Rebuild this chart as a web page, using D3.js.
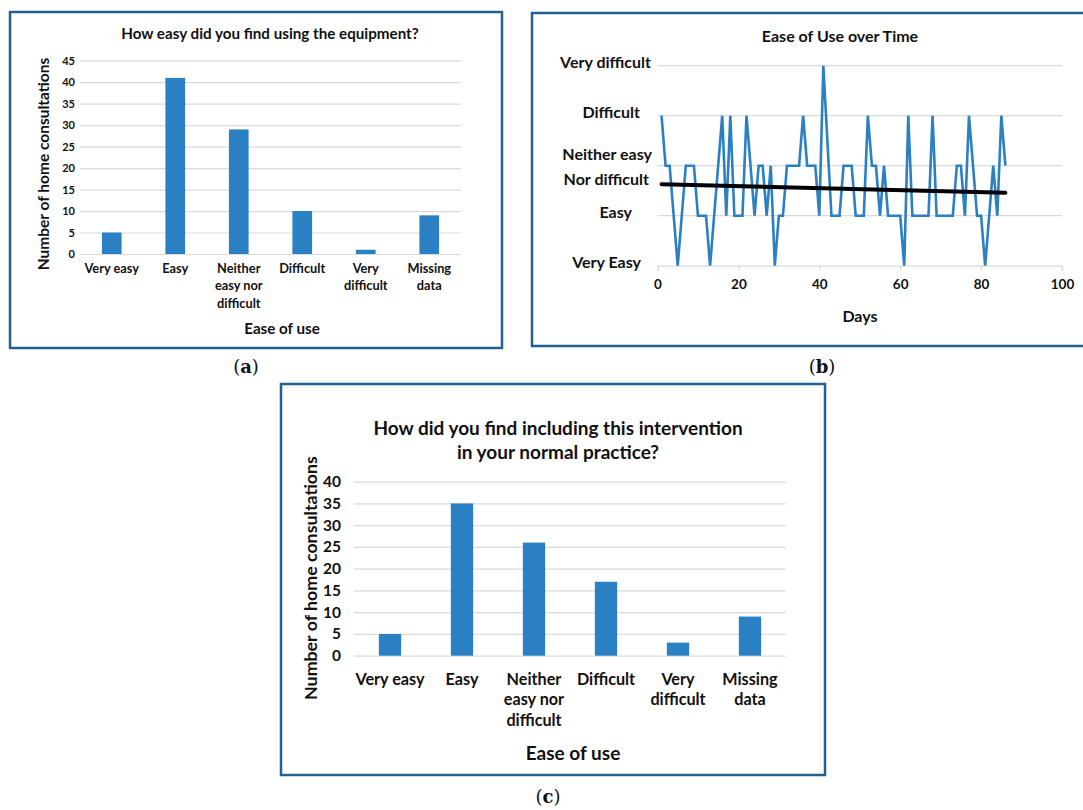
<!DOCTYPE html>
<html>
<head>
<meta charset="utf-8">
<script src="https://cdn.jsdelivr.net/npm/d3@7"></script>
<style>
  body { margin: 0; background: #fff; }
  svg { display: block; font-family: Lato, "Open Sans", sans-serif; }
</style>
</head>
<body>
<div id="container"></div>
<script>
// Categories shared by the two bar charts (line breaks as in the figure)
const categories = ['Very easy', 'Easy', 'Neither easy nor difficult', 'Difficult', 'Very difficult', 'Missing data'];
const categoryLines = [['Very easy'], ['Easy'], ['Neither', 'easy nor', 'difficult'], ['Difficult'], ['Very', 'difficult'], ['Missing', 'data']];

// (a) How easy did you find using the equipment?
const equipmentCounts = [5, 41, 29, 10, 1, 9];
const equipmentTicks = [0, 5, 10, 15, 20, 25, 30, 35, 40, 45];

// (c) How did you find including this intervention in your normal practice?
const practiceCounts = [5, 35, 26, 17, 3, 9];
const practiceTicks = [0, 5, 10, 15, 20, 25, 30, 35, 40];

// (b) Ease of use over time (1 = very easy ... 5 = very difficult)
const easeLevels = [1, 2, 3, 4, 5];
const easeLabels = [['Very Easy'], ['Easy'], ['Neither easy', 'Nor difficult'], ['Difficult'], ['Very difficult']];
const days = [1, 2, 3, 5, 7, 9, 10, 12, 13, 16, 17, 18, 19, 21, 22, 24, 25, 26, 27, 28, 29, 30, 31, 32, 35, 36, 37, 39, 40, 41,
  43, 45, 46, 48, 49, 51, 52, 53, 54, 55, 56, 57, 60, 61, 62, 63, 67, 68, 69, 73, 74, 75, 76, 77, 79, 80, 81, 83, 84, 85, 86];
const easeValues = [4, 3, 3, 1, 3, 3, 2, 2, 1, 4, 2, 4, 2, 2, 4, 2, 3, 3, 2, 3, 1, 2, 2, 3, 3, 4, 3, 3, 2, 5,
  2, 2, 3, 3, 2, 2, 4, 3, 3, 2, 3, 2, 2, 1, 4, 2, 2, 4, 2, 2, 3, 3, 2, 4, 2, 2, 1, 3, 2, 4, 3];
const trendDays = [1, 86];
const trendValues = [2.63, 2.46];
const dayTicks = [0, 20, 40, 60, 80, 100];

const blue = '#2a80c3';
const frame = '#22618f';
const grid = '#dadada';

const svg = d3.select('#container').append('svg')
  .attr('width', 1083)
  .attr('height', 810);

// Bar chart panel, used for (a) and (c)
function barPanel(opt) {
  const g = svg.append('g');

  g.append('rect')
    .attr('x', opt.box[0]).attr('y', opt.box[1])
    .attr('width', opt.box[2] - opt.box[0]).attr('height', opt.box[3] - opt.box[1])
    .attr('fill', '#fff').attr('stroke', frame).attr('stroke-width', 2.5);

  const x = d3.scaleBand()
    .domain(categories)
    .range([opt.left, opt.right])
    .paddingInner(0.69)
    .paddingOuter(0.345);

  const y = d3.scaleLinear()
    .domain([0, d3.max(opt.ticks)])
    .range([opt.bottom, opt.top]);

  // gridlines + y labels
  g.append('g')
    .attr('transform', `translate(${opt.left},0)`)
    .call(d3.axisLeft(y).tickValues(opt.ticks).tickSize(-(opt.right - opt.left)).tickPadding(opt.tickPad))
    .call(a => a.select('.domain').remove())
    .call(a => a.selectAll('line').attr('stroke', grid).attr('stroke-width', 1.2))
    .call(a => a.selectAll('text')
      .attr('font-family', 'Lato, sans-serif')
      .attr('font-weight', 'bold')
      .attr('font-size', opt.tickSize)
      .attr('fill', '#111'));

  g.append('g').selectAll('rect')
    .data(opt.values)
    .join('rect')
    .attr('x', (d, i) => x(categories[i]))
    .attr('y', d => y(d))
    .attr('width', x.bandwidth())
    .attr('height', d => y(0) - y(d))
    .attr('fill', blue);

  // category labels
  const lab = g.append('g').selectAll('text')
    .data(categoryLines)
    .join('text')
    .attr('text-anchor', 'middle')
    .attr('font-weight', 'bold')
    .attr('font-size', opt.catSize)
    .attr('fill', '#111');
  lab.selectAll('tspan')
    .data((d, i) => d.map(t => ({ t, i })))
    .join('tspan')
    .attr('x', d => x(categories[d.i]) + x.bandwidth() / 2)
    .attr('y', (d, j) => opt.catY + j * opt.catGap)
    .attr('dy', '0.35em')
    .text(d => d.t);

  // title
  const t = g.append('text')
    .attr('text-anchor', 'middle')
    .attr('font-weight', 'bold')
    .attr('font-size', opt.titleSize)
    .attr('fill', '#111');
  t.selectAll('tspan')
    .data(opt.title)
    .join('tspan')
    .attr('x', opt.titleX)
    .attr('y', (d, j) => opt.titleY + j * opt.titleGap)
    .attr('dy', '0.35em')
    .text(d => d);

  g.append('text')
    .attr('x', opt.xTitle[0]).attr('y', opt.xTitle[1])
    .attr('dy', '0.35em')
    .attr('text-anchor', 'middle')
    .attr('font-weight', 'bold')
    .attr('font-size', opt.axisSize)
    .attr('fill', '#111')
    .text('Ease of use');

  g.append('text')
    .attr('transform', `translate(${opt.yTitle[0]},${opt.yTitle[1]}) rotate(-90)`)
    .attr('dy', '0.35em')
    .attr('text-anchor', 'middle')
    .attr('font-weight', 'bold')
    .attr('font-size', opt.yAxisSize)
    .attr('fill', '#111')
    .text('Number of home consultations');
}

barPanel({
  box: [10, 12, 502, 348],
  left: 80, right: 461, top: 60.7, bottom: 254,
  values: equipmentCounts, ticks: equipmentTicks,
  tickSize: 11, tickPad: 5,
  catSize: 12.8, catY: 268.5, catGap: 17.5,
  title: ['How easy did you find using the equipment?'], titleX: 270, titleY: 34, titleGap: 0, titleSize: 15.2,
  axisSize: 15.2, yAxisSize: 15.5, xTitle: [282, 329], yTitle: [44, 164]
});

barPanel({
  box: [281, 384, 825, 775],
  left: 354, right: 786, top: 481.7, bottom: 655.7,
  values: practiceCounts, ticks: practiceTicks,
  tickSize: 15.5, tickPad: 13,
  catSize: 16.2, catY: 679, catGap: 20.5,
  title: ['How did you find including this intervention', 'in your normal practice?'], titleX: 558, titleY: 428.5, titleGap: 23.5, titleSize: 19,
  axisSize: 19, yAxisSize: 17.8, xTitle: [573, 753], yTitle: [311, 578]
});

// (b) line chart
const gb = svg.append('g');
gb.append('rect')
  .attr('x', 532).attr('y', 13).attr('width', 600).attr('height', 333)
  .attr('fill', '#fff').attr('stroke', frame).attr('stroke-width', 2.5);

const xb = d3.scaleLinear().domain([0, 100]).range([657.5, 1062]);
const yb = d3.scaleLinear().domain([1, 5]).range([265.7, 65.7]);

gb.append('g').selectAll('line')
  .data(easeLevels.slice(1))
  .join('line')
  .attr('x1', xb(0)).attr('x2', xb(100))
  .attr('y1', d => yb(d)).attr('y2', d => yb(d))
  .attr('stroke', grid).attr('stroke-width', 1.2);

gb.append('g')
  .attr('transform', `translate(0,${yb(1)})`)
  .call(d3.axisBottom(xb).tickValues(dayTicks).tickSize(5).tickPadding(9))
  .call(a => a.select('.domain').attr('stroke', grid).attr('stroke-width', 1.2))
  .call(a => a.selectAll('line').attr('stroke', grid).attr('stroke-width', 1.2))
  .call(a => a.selectAll('text')
    .attr('font-family', 'Lato, sans-serif')
    .attr('font-weight', 'bold')
    .attr('font-size', 13.5)
    .attr('fill', '#111'));

const yl = gb.append('g').selectAll('text')
  .data(easeLabels)
  .join('text')
  .attr('text-anchor', 'end')
  .attr('font-weight', 'bold')
  .attr('font-size', 16)
  .attr('fill', '#111');
yl.selectAll('tspan')
  .data((d, i) => d.map((t, j) => ({ t, i, j, n: d.length })))
  .join('tspan')
  .attr('x', d => d.n > 1 ? 652 - d.j * 3 : [641, 632, 0, 640, 651][d.i])
  .attr('y', d => d.n > 1 ? yb(easeLevels[d.i]) - 11 + d.j * 25 : yb(easeLevels[d.i]) - 3)
  .attr('dy', '0.35em')
  .text(d => d.t);

const line = d3.line()
  .x((d, i) => xb(days[i]))
  .y(d => yb(d));

gb.append('path')
  .datum(easeValues)
  .attr('d', line)
  .attr('fill', 'none')
  .attr('stroke', blue)
  .attr('stroke-width', 2.6)
  .attr('stroke-linejoin', 'miter');

gb.append('path')
  .datum(trendValues)
  .attr('d', d3.line().x((d, i) => xb(trendDays[i])).y(d => yb(d)))
  .attr('stroke', '#000')
  .attr('stroke-width', 4)
  .attr('stroke-linecap', 'round');

gb.append('text')
  .attr('x', 840).attr('y', 36).attr('dy', '0.35em')
  .attr('text-anchor', 'middle')
  .attr('font-weight', 'bold')
  .attr('font-size', 16)
  .attr('fill', '#111')
  .text('Ease of Use over Time');

gb.append('text')
  .attr('x', 860).attr('y', 316).attr('dy', '0.35em')
  .attr('text-anchor', 'middle')
  .attr('font-weight', 'bold')
  .attr('font-size', 16)
  .attr('fill', '#111')
  .text('Days');

// sub-figure letters
const letters = [['a', 246, 367], ['b', 822, 367], ['c', 548, 797]];
svg.append('g').selectAll('text')
  .data(letters)
  .join('text')
  .attr('x', d => d[1]).attr('y', d => d[2]).attr('dy', '0.35em')
  .attr('text-anchor', 'middle')
  .attr('font-family', '"DejaVu Serif", "Liberation Serif", serif')
  .attr('font-size', 18)
  .attr('fill', '#111')
  .each(function (d) {
    const s = d3.select(this);
    s.append('tspan').text('(');
    s.append('tspan').attr('font-weight', 'bold').text(d[0]);
    s.append('tspan').text(')');
  });
</script>
</body>
</html>
